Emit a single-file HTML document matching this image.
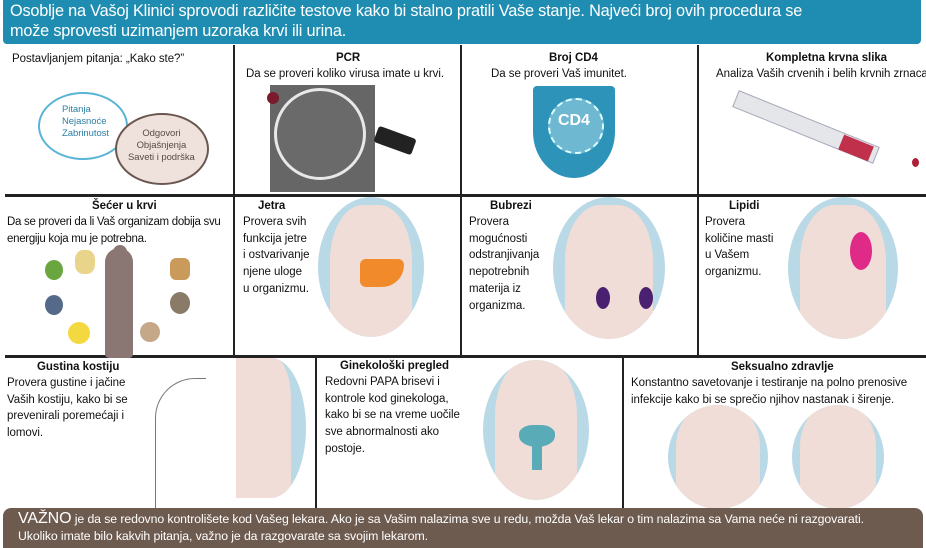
<!DOCTYPE html>
<html><head><meta charset="utf-8"><style>
body{margin:0;width:926px;height:544px;background:#fff;position:relative;overflow:hidden;font-family:"Liberation Sans",sans-serif;color:#111}
.a{position:absolute}
.t{position:absolute;font-size:11.5px;line-height:16.7px;letter-spacing:-0.05px;white-space:nowrap}
.b{font-weight:bold}
.vl{position:absolute;width:2px;background:#222}
.hl{position:absolute;height:3px;background:#222}
.circ{position:absolute;border-radius:50%;background:#b9d9e6;overflow:hidden}
.torso{position:absolute;background:#f0ddd8;border-radius:40% 40% 10% 10%}
</style></head><body>
<div class="a" style="left:3px;top:0;width:918px;height:44px;background:#1f8db2;border-radius:0 0 4px 4px"></div>
<div class="t" style="left:10px;top:1px;color:#fff;font-size:16.3px;line-height:20px;letter-spacing:-0.2px">Osoblje na Vašoj Klinici sprovodi različite testove kako bi stalno pratili Vaše stanje. Najveći broj ovih procedura se<br>može sprovesti uzimanjem uzoraka krvi ili urina.</div>

<div class="vl" style="left:233px;top:45px;height:312px"></div>
<div class="vl" style="left:460px;top:45px;height:312px"></div>
<div class="vl" style="left:697px;top:45px;height:312px"></div>
<div class="hl" style="left:5px;top:194px;width:921px"></div>
<div class="hl" style="left:5px;top:355px;width:921px"></div>
<div class="vl" style="left:315px;top:356px;height:152px"></div>
<div class="vl" style="left:622px;top:356px;height:152px"></div>

<!-- row 1 -->
<div class="t" style="left:12px;top:51px">Postavljanjem pitanja: „Kako ste?”</div>
<div class="a" style="left:38px;top:92px;width:86px;height:64px;border-radius:50%;background:#fff;border:2px solid #5ab4d6"></div>
<div class="a" style="left:115px;top:113px;width:90px;height:68px;border-radius:50%;background:#efe2dc;border:2px solid #6b5750"></div>
<div class="t" style="left:62px;top:104px;font-size:9.5px;line-height:12px;color:#2c7fa5">Pitanja<br>Nejasnoće<br>Zabrinutost</div>
<div class="t" style="left:128px;top:128px;font-size:9.5px;line-height:12px;color:#5a4a44;text-align:center">Odgovori<br>Objašnjenja<br>Saveti i podrška</div>

<div class="t b" style="left:336px;top:50px">PCR</div>
<div class="t" style="left:246px;top:66px">Da se proveri koliko virusa imate u krvi.</div>
<div class="a" style="left:270px;top:85px;width:105px;height:107px;background:#666"></div>
<div class="a" style="left:274px;top:88px;width:86px;height:86px;border-radius:50%;border:3px solid #e8e8e8;background:#6a6a6a"></div>
<div class="a" style="left:375px;top:132px;width:40px;height:17px;background:#222;transform:rotate(20deg);border-radius:3px"></div>
<div class="a" style="left:267px;top:92px;width:12px;height:12px;border-radius:50%;background:#7a1a2a"></div>

<div class="t b" style="left:549px;top:50px">Broj CD4</div>
<div class="t" style="left:491px;top:66px">Da se proveri Vaš imunitet.</div>
<div class="a" style="left:533px;top:86px;width:82px;height:92px;background:#2d93b8;border-radius:4px 4px 50% 50%"></div>
<div class="a" style="left:548px;top:98px;width:52px;height:52px;border-radius:50%;background:#6fb8d2;border:2px dashed #dff"></div>
<div class="t b" style="left:558px;top:113px;color:#fff;font-size:16px">CD4</div>

<div class="t b" style="left:766px;top:50px">Kompletna krvna slika</div>
<div class="t" style="left:716px;top:66px">Analiza Vaših crvenih i belih krvnih zrnaca</div>
<div class="a" style="left:730px;top:118px;width:150px;height:16px;background:#e4e6ea;transform:rotate(22deg);border:1px solid #aab"></div>
<div class="a" style="left:840px;top:140px;width:32px;height:16px;background:#c0304a;transform:rotate(22deg)"></div>
<div class="a" style="left:912px;top:158px;width:7px;height:9px;border-radius:50%;background:#b0203a"></div>

<!-- row 2 -->
<div class="t b" style="left:92px;top:198px">Šećer u krvi</div>
<div class="t" style="left:7px;top:214px;letter-spacing:-0.3px">Da se proveri da li Vaš organizam dobija svu<br>energiju koja mu je potrebna.</div>
<div class="a" style="left:105px;top:248px;width:28px;height:110px;background:#8a7672;border-radius:14px 14px 4px 4px"></div>
<div class="a" style="left:113px;top:245px;width:14px;height:14px;border-radius:50%;background:#8a7672"></div>
<div class="a" style="left:45px;top:260px;width:18px;height:20px;border-radius:50%;background:#6aa640"></div>
<div class="a" style="left:75px;top:250px;width:20px;height:24px;border-radius:40%;background:#e8d48a"></div>
<div class="a" style="left:170px;top:258px;width:20px;height:22px;border-radius:30%;background:#c99a5a"></div>
<div class="a" style="left:170px;top:292px;width:20px;height:22px;border-radius:50%;background:#8a7a68"></div>
<div class="a" style="left:45px;top:295px;width:18px;height:20px;border-radius:50%;background:#556a88"></div>
<div class="a" style="left:68px;top:322px;width:22px;height:22px;border-radius:50%;background:#f3d840"></div>
<div class="a" style="left:140px;top:322px;width:20px;height:20px;border-radius:50%;background:#c4a888"></div>

<div class="t b" style="left:258px;top:198px">Jetra</div>
<div class="t" style="left:243px;top:214px">Provera svih<br>funkcija jetre<br>i ostvarivanje<br>njene uloge<br>u organizmu.</div>
<div class="circ" style="left:318px;top:197px;width:106px;height:140px"><div class="torso" style="left:12px;top:8px;width:82px;height:140px"></div>
<div class="a" style="left:42px;top:62px;width:44px;height:28px;background:#f08a2a;border-radius:8px 8px 30px 8px"></div></div>

<div class="t b" style="left:490px;top:198px">Bubrezi</div>
<div class="t" style="left:469px;top:214px">Provera<br>mogućnosti<br>odstranjivanja<br>nepotrebnih<br>materija iz<br>organizma.</div>
<div class="circ" style="left:553px;top:197px;width:112px;height:142px"><div class="torso" style="left:12px;top:8px;width:88px;height:140px"></div>
<div class="a" style="left:43px;top:90px;width:14px;height:22px;border-radius:50%;background:#4a2070"></div>
<div class="a" style="left:86px;top:90px;width:14px;height:22px;border-radius:50%;background:#4a2070"></div></div>

<div class="t b" style="left:729px;top:198px">Lipidi</div>
<div class="t" style="left:705px;top:214px">Provera<br>količine masti<br>u Vašem<br>organizmu.</div>
<div class="circ" style="left:788px;top:197px;width:110px;height:142px"><div class="torso" style="left:12px;top:8px;width:86px;height:140px"></div>
<div class="a" style="left:62px;top:35px;width:22px;height:38px;border-radius:50%;background:#e02a88"></div></div>

<!-- row 3 -->
<div class="t b" style="left:37px;top:359px">Gustina kostiju</div>
<div class="t" style="left:7px;top:375px">Provera gustine i jačine<br>Vaših kostiju, kako bi se<br>prevenirali poremećaji i<br>lomovi.</div>
<div class="a" style="left:155px;top:378px;width:50px;height:130px;border-left:1px solid #777;border-top:1px solid #777;border-radius:40px 0 0 0"></div>
<div class="circ" style="left:236px;top:358px;width:70px;height:140px;border-radius:0 50% 50% 0"><div class="torso" style="left:0;top:0;width:55px;height:140px;border-radius:0 30% 0 0"></div></div>

<div class="t b" style="left:340px;top:358px">Ginekološki pregled</div>
<div class="t" style="left:325px;top:374px">Redovni PAPA brisevi i<br>kontrole kod ginekologa,<br>kako bi se na vreme uočile<br>sve abnormalnosti ako<br>postoje.</div>
<div class="circ" style="left:483px;top:360px;width:106px;height:140px"><div class="torso" style="left:12px;top:0;width:82px;height:140px"></div>
<div class="a" style="left:36px;top:65px;width:36px;height:22px;background:#5aabb8;border-radius:40% 40% 50% 50%"></div>
<div class="a" style="left:49px;top:85px;width:10px;height:25px;background:#5aabb8"></div></div>

<div class="t b" style="left:731px;top:359px">Seksualno zdravlje</div>
<div class="t" style="left:631px;top:375px">Konstantno savetovanje i testiranje na polno prenosive<br>infekcije kako bi se sprečio njihov nastanak i širenje.</div>
<div class="circ" style="left:668px;top:405px;width:100px;height:104px"><div class="torso" style="left:8px;top:0;width:84px;height:104px;background:#f0ddd8"></div></div>
<div class="circ" style="left:792px;top:405px;width:92px;height:104px"><div class="torso" style="left:8px;top:0;width:76px;height:104px;background:#f0ddd8"></div></div>

<!-- footer -->
<div class="a" style="left:3px;top:508px;width:920px;height:40px;background:#6e5b50;border-radius:8px 8px 0 0"></div>
<div class="t" style="left:18px;top:510px;color:#fff;font-size:12.3px;line-height:17px;letter-spacing:-0.1px"><span style="font-size:16px">VAŽNO</span> je da se redovno kontrolišete kod Vašeg lekara. Ako je sa Vašim nalazima sve u redu, možda Vaš lekar o tim nalazima sa Vama neće ni razgovarati.<br>Ukoliko imate bilo kakvih pitanja, važno je da razgovarate sa svojim lekarom.</div>
</body></html>
